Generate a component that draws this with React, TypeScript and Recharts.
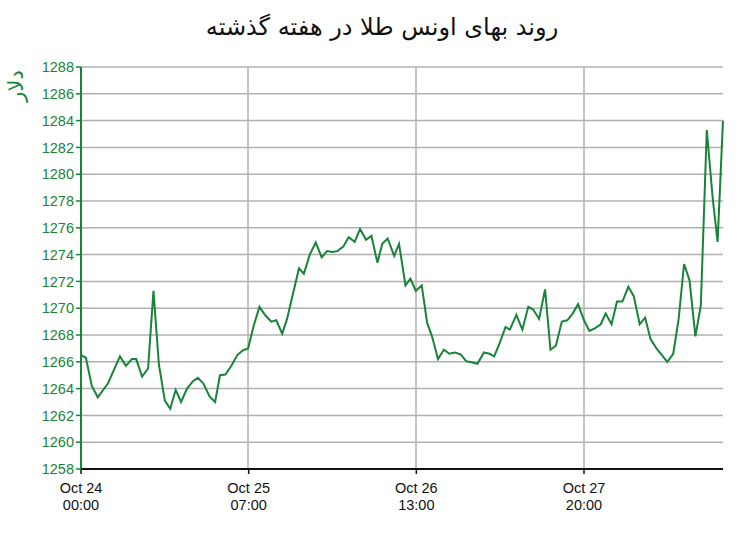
import { LineChart, Line, XAxis, YAxis, CartesianGrid } from 'recharts';

// hours since Oct 24 00:00 and the gold price (USD / ounce) at that moment
const hours = [
  0, 0.9, 2.0, 3.1, 5.0, 7.2, 8.3, 9.4, 10.2, 11.3, 12.4, 13.4, 14.4, 15.5, 16.5, 17.5, 18.5, 19.6, 20.7, 21.6,
  22.6, 23.8, 24.8, 25.7, 26.7, 27.8, 28.9, 29.9, 30.9, 31.9, 33.0, 34.1, 35.2, 36.1, 37.2, 38.1, 39.2, 40.3, 41.2, 42.3,
  43.4, 44.5, 45.5, 46.5, 47.4, 48.5, 49.5, 50.6, 51.6, 52.7, 53.7, 54.8, 55.7, 56.7, 57.9, 58.8, 60.0, 60.9, 61.9, 63.0,
  64.0, 64.9, 66.0, 67.1, 68.1, 69.1, 70.2, 71.2, 72.2, 73.3, 74.5, 75.5, 76.4, 77.4, 78.5, 79.3, 80.5, 81.6, 82.7, 83.6,
  84.7, 85.8, 86.8, 87.8, 88.9, 89.9, 90.9, 91.9, 93.0, 94.0, 95.0, 96.1, 97.0, 98.1, 99.1, 100.1, 101.2, 102.2, 103.3, 104.3,
  105.3, 106.4, 107.4, 108.4, 109.5, 110.5, 111.5, 112.5, 113.6, 114.6, 115.7, 116.8, 117.7, 118.7,
];

const prices = [
  1266.5, 1266.3, 1264.2, 1263.35, 1264.4, 1266.4, 1265.7, 1266.2, 1266.2, 1264.9, 1265.5, 1271.3, 1265.8, 1263.1, 1262.5, 1263.9, 1263.0, 1264.0, 1264.55, 1264.8,
  1264.4, 1263.4, 1263.0, 1265.0, 1265.05, 1265.7, 1266.5, 1266.85, 1267.0, 1268.65, 1270.1, 1269.45, 1269.0, 1269.1, 1268.1, 1269.2, 1271.1, 1272.97, 1272.57, 1274.0,
  1274.9, 1273.8, 1274.26, 1274.2, 1274.26, 1274.6, 1275.3, 1274.95, 1275.9, 1275.1, 1275.4, 1273.4, 1274.8, 1275.2, 1273.9, 1274.8, 1271.7, 1272.2, 1271.3, 1271.7,
  1268.9, 1267.9, 1266.2, 1266.9, 1266.6, 1266.7, 1266.55, 1266.05, 1265.97, 1265.85, 1266.7, 1266.6, 1266.4, 1267.4, 1268.6, 1268.4, 1269.5, 1268.4, 1270.1, 1269.9,
  1269.2, 1271.4, 1266.9, 1267.2, 1269.0, 1269.1, 1269.6, 1270.3, 1269.1, 1268.3, 1268.5, 1268.8, 1269.6, 1268.8, 1270.5, 1270.5, 1271.6, 1270.9, 1268.8, 1269.3,
  1267.7, 1267.0, 1266.5, 1266.0, 1266.6, 1269.2, 1273.3, 1272.1, 1267.9, 1270.2, 1283.3, 1278.2, 1274.95, 1284.0,
];

const xTicks = [0, 31, 62, 93];
const xTickDates = ['Oct 24', 'Oct 25', 'Oct 26', 'Oct 27'];
const xTickTimes = ['00:00', '07:00', '13:00', '20:00'];
const yTicks = [1258, 1260, 1262, 1264, 1266, 1268, 1270, 1272, 1274, 1276, 1278, 1280, 1282, 1284, 1286, 1288];

const data = hours.map((h, i) => ({ h, price: prices[i] }));

const GREEN = '#17843a';
const FONT = '"Liberation Sans", Arial, sans-serif';

function XTick({ x, y, payload }: any) {
  const i = xTicks.indexOf(payload.value);
  return (
    <text x={x} y={y} textAnchor="middle" fontFamily={FONT} fontSize={14.5} fill="#111">
      <tspan x={x} dy={17}>{xTickDates[i]}</tspan>
      <tspan x={x} dy={17}>{xTickTimes[i]}</tspan>
    </text>
  );
}

export default function App() {
  return (
    <div style={{ position: 'absolute', left: 0, top: 0, width: 750, height: 536, background: '#fff' }}>
      <div
        style={{
          position: 'absolute',
          top: 13,
          left: 0,
          width: 764,
          textAlign: 'center',
          fontFamily: '"DejaVu Sans", sans-serif',
          fontSize: 24,
          color: '#111',
          direction: 'rtl',
        }}
      >
        روند بهای اونس طلا در هفته گذشته
      </div>
      <div
        style={{
          position: 'absolute',
          left: 0,
          top: 74,
          fontFamily: '"DejaVu Sans", sans-serif',
          fontSize: 21,
          color: GREEN,
          transform: 'rotate(-90deg)',
          transformOrigin: 'center',
          direction: 'rtl',
        }}
      >
        دلار
      </div>
      <LineChart width={750} height={536} data={data} margin={{ top: 67, right: 27, bottom: 27, left: 0 }}>
        <CartesianGrid stroke="#b0b0b0" strokeWidth={1.5} verticalPoints={[248, 416, 584]} />
        <XAxis
          dataKey="h"
          type="number"
          domain={[0, 118.7]}
          ticks={xTicks}
          interval={0}
          height={40}
          axisLine={{ stroke: '#111', strokeWidth: 2 }}
          tickLine={{ stroke: '#111', strokeWidth: 1.5 }}
          tickSize={5}
          tick={<XTick />}
        />
        <XAxis xAxisId="top" orientation="top" dataKey="h" type="number" domain={[0, 118.7]} height={0} tick={false} tickLine={false} axisLine={{ stroke: '#111', strokeWidth: 2 }} />
        <YAxis
          type="number"
          domain={[1258, 1288]}
          ticks={yTicks}
          interval={0}
          width={81}
          axisLine={{ stroke: GREEN, strokeWidth: 2 }}
          tickLine={{ stroke: GREEN, strokeWidth: 1.5 }}
          tickSize={5}
          tick={{ fill: GREEN, fontFamily: FONT, fontSize: 14.5 }}
        />
        <YAxis yAxisId="right" orientation="right" domain={[1258, 1288]} width={0} tick={false} tickLine={false} axisLine={{ stroke: '#111', strokeWidth: 2 }} />
        <Line type="linear" dataKey="price" stroke={GREEN} strokeWidth={2} dot={false} isAnimationActive={false} />
      </LineChart>
    </div>
  );
}
